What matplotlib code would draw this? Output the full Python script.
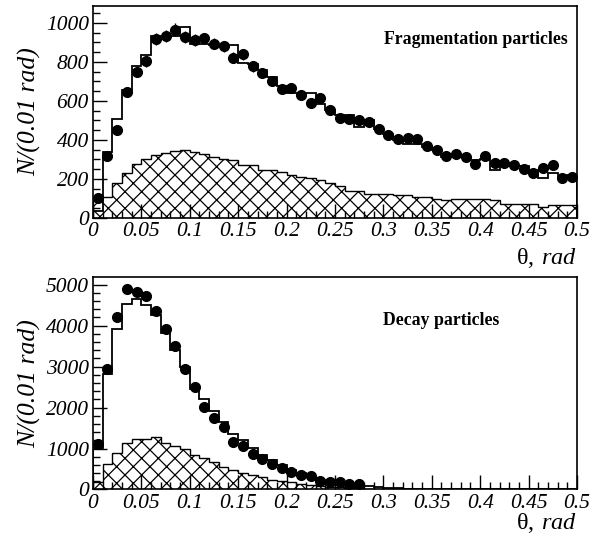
import matplotlib
matplotlib.use('Agg')
import matplotlib.pyplot as plt
import numpy as np
from matplotlib.ticker import MultipleLocator, FormatStrFormatter

# 50 bins of 0.01 rad from 0 to 0.5
edges = np.linspace(0, 0.5, 51)

# fragmentation particles (top panel)
frag_data = [104, 316, 453, 646, 749, 803, 916, 935, 966, 928,
             911, 920, 894, 880, 822, 839, 778, 744, 701, 663,
             668, 629, 590, 615, 554, 515, 507, 501, 492, 456,
             428, 405, 408, 405, 368, 351, 320, 330, 313, 275,
             318, 284, 284, 270, 253, 232, 256, 270, 207, 210]
frag_mc = [36, 338, 509, 655, 778, 834, 932, 932, 932, 980,
           890, 890, 885, 885, 885, 795, 790, 757, 723, 675,
           641, 641, 641, 583, 552, 527, 527, 467, 501, 455,
           429, 398, 381, 381, 363, 349, 315, 328, 313, 296,
           305, 248, 265, 265, 265, 245, 207, 231, 210, 219]
frag_part = [108, 108, 180, 231, 279, 304, 321, 333, 342, 347,
             338, 326, 313, 304, 299, 270, 270, 244, 244, 236,
             219, 210, 205, 193, 180, 162, 141, 141, 125, 125,
             125, 116, 116, 108, 108, 99, 91, 95, 99, 99,
             99, 91, 74, 74, 74, 74, 56, 65, 65, 65]

# decay particles (bottom panel), data points only up to 0.28 rad
decay_data = [1112, 2946, 4206, 4898, 4817, 4731, 4368, 3918, 3512, 2946,
              2498, 2017, 1748, 1521, 1169, 1055, 868, 746, 620, 530,
              435, 354, 338, 215, 191, 175, 142, 134]
decay_mc = [1007, 2816, 3916, 4528, 4658, 4494, 4250, 3819, 3411, 2979,
            2457, 2213, 1919, 1640, 1357, 1210, 1007, 843, 721, 599,
            477, 396, 298, 232, 191, 151, 118, 94, 78, 53,
            40, 30, 22, 16, 12, 9, 7, 5, 4, 3,
            2, 2, 1, 1, 1, 1, 0, 0, 0, 0]
decay_part = [191, 616, 900, 1130, 1227, 1227, 1292, 1130, 1064, 982,
              843, 778, 680, 560, 477, 396, 354, 298, 232, 208,
              175, 134, 110, 93, 69, 53, 40, 30, 20, 15,
              10, 7, 5, 4, 3, 2, 2, 1, 1, 1,
              0, 0, 0, 0, 0, 0, 0, 0, 0, 0]

plt.rcParams['font.family'] = ['Liberation Serif', 'DejaVu Serif']
plt.rcParams['font.style'] = 'italic'
plt.rcParams['mathtext.fontset'] = 'custom'
plt.rcParams['mathtext.rm'] = 'Liberation Serif:style=normal'
plt.rcParams['mathtext.it'] = 'Liberation Serif:style=italic'
plt.rcParams['hatch.linewidth'] = 0.9

fig = plt.figure(figsize=(5.92, 5.37), dpi=100)
ax1 = fig.add_axes([0.157, 0.594, 0.8176, 0.395])
ax2 = fig.add_axes([0.157, 0.0885, 0.8176, 0.396])


def draw_panel(ax, data, mc, part, ymax, ymajor, yminor, title, tx, ty, ha, xl_y):
    centers = (edges[:-1] + edges[1:]) / 2
    ax.stairs(part, edges, fill=True, facecolor='white', edgecolor='black',
              hatch='xx', linewidth=1.0, zorder=1)
    ax.stairs(mc, edges, color='black', linewidth=1.3, zorder=2)
    data = np.array(data, dtype=float)
    n = len(data)
    ax.errorbar(centers[:n], data, yerr=np.sqrt(data), fmt='o', color='black',
                markersize=7, elinewidth=1.0, capsize=0, zorder=3)
    ax.set_xlim(0, 0.5)
    ax.set_ylim(0, ymax)
    ax.xaxis.set_major_locator(MultipleLocator(0.05))
    ax.xaxis.set_minor_locator(MultipleLocator(0.01))
    ax.xaxis.set_major_formatter(FormatStrFormatter('%g'))
    ax.yaxis.set_major_locator(MultipleLocator(ymajor))
    ax.yaxis.set_minor_locator(MultipleLocator(yminor))
    ax.tick_params(which='both', direction='in', top=False, right=False,
                   labelsize=15.5, width=1)
    ax.tick_params(which='major', length=10, pad=3)
    ax.tick_params(which='minor', length=5)
    for s in ax.spines.values():
        s.set_linewidth(1.2)
    ax.set_ylabel('N/(0.01 rad)', fontsize=18.5, labelpad=3)
    ax.text(1.0, xl_y, r'$\mathrm{θ,}\:\mathit{rad}$', transform=ax.transAxes,
            ha='right', va='top', fontsize=17.5)
    ax.text(tx, ty, title, transform=ax.transAxes, ha=ha, va='center',
            fontsize=12.8, fontweight='bold', fontstyle='normal')


draw_panel(ax1, frag_data, frag_mc, frag_part, 1087, 200, 50,
           'Fragmentation particles', 0.98, 0.84, 'right', -0.13)
draw_panel(ax2, decay_data, decay_mc, decay_part, 5190, 1000, 200,
           'Decay particles', 0.72, 0.794, 'center', -0.1)

fig.savefig('out.png', dpi=100)
